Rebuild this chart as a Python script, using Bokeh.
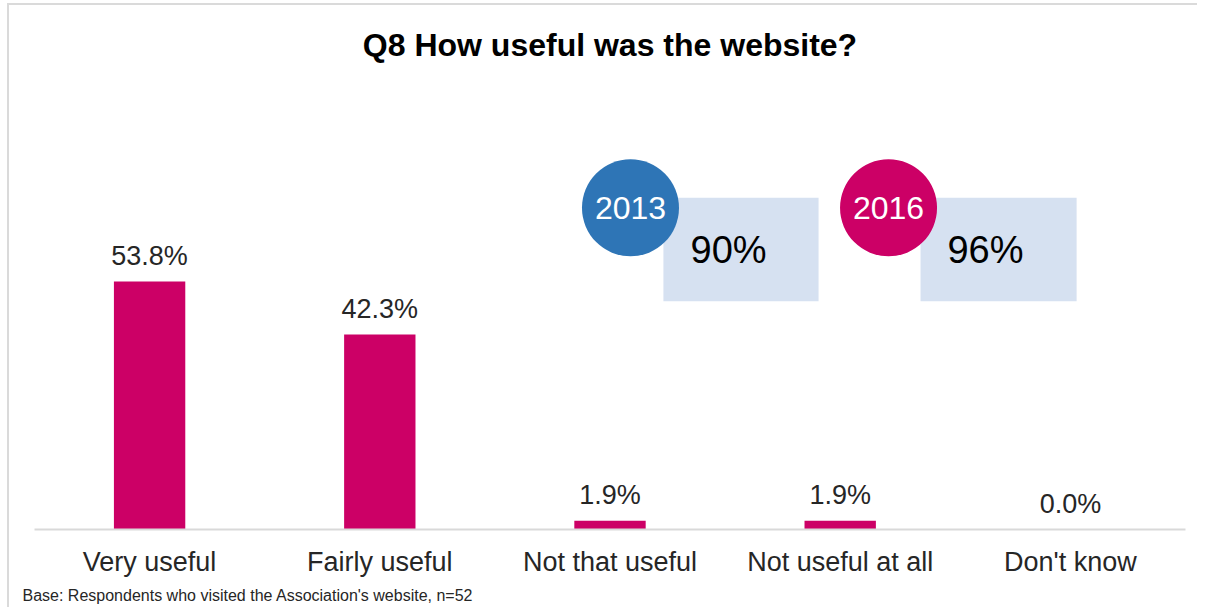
from bokeh.plotting import figure
from bokeh.models import Range1d, FixedTicker, Label, ColumnDataSource, Title
from bokeh.core.properties import value
from bokeh.embed import file_html
from bokeh.resources import INLINE

# ---- data ----
categories = ["Very useful", "Fairly useful", "Not that useful", "Not useful at all", "Don't know"]
percent = [53.8, 42.3, 1.9, 1.9, 0.0]
years = ["2013", "2016"]
useful_total = [90, 96]
year_colors = ["#2E75B6", "#CC0066"]

title_text = "Q8 How useful was the website?"
base_note = "Base: Respondents who visited the Association's website, n=52"

FONT = "Liberation Sans"
PINK = "#CC0066"

xs = [i + 0.5 for i in range(len(categories))]

p = figure(width=1190, height=604, output_backend="svg", toolbar_location=None,
           x_range=Range1d(0, len(categories)), y_range=Range1d(0, 113.7),
           min_border_left=25, min_border_right=14, min_border_top=0, min_border_bottom=75)
p.styles = {"margin-left": "7px", "margin-top": "3px",
            "border-left": "2px solid #DADADA", "border-top": "2px solid #DADADA"}
p.outline_line_color = None
p.grid.visible = False
p.yaxis.visible = False
p.background_fill_color = "white"
p.border_fill_color = "white"

src = ColumnDataSource(dict(x=xs, top=percent,
                            lab=[f"{v:.1f}%" for v in percent]))
p.vbar(x="x", top="top", width=0.31, source=src, fill_color=PINK, line_color=None)
p.text(x="x", y="top", text="lab", source=src, text_align="center", text_baseline="bottom",
       y_offset=-11, text_font=value(FONT), text_font_size="27px", text_color="#262626")

ax = p.xaxis[0]
ax.ticker = FixedTicker(ticks=xs)
ax.major_label_overrides = {x: c for x, c in zip(xs, categories)}
ax.major_tick_line_color = None
ax.minor_tick_line_color = None
ax.axis_line_color = "#D9D9D9"
ax.axis_line_width = 2
ax.major_label_text_font = FONT
ax.major_label_text_font_size = "27px"
ax.major_label_text_color = "#262626"
ax.major_label_standoff = 11

# ---- title & note ----
p.add_layout(Label(x=2.5, y=105.2, text=title_text, text_align="center", text_baseline="middle",
                   text_font=FONT, text_font_size="32px", text_font_style="bold", text_color="#000000"))
p.add_layout(Title(text=base_note, align="left", offset=-12, standoff=11,
                   text_font=FONT, text_font_size="16px", text_font_style="normal",
                   text_color="#262626"), "below")

# ---- callouts (year badge + share useful) ----
circle_x = [2.589, 3.710]
box_left = [2.732, 3.849]
box_right = [3.406, 4.527]
num_x = [3.015, 4.131]
p.quad(left=box_left, right=box_right, top=72.0, bottom=49.5, fill_color="#D6E1F1", line_color=None)
p.scatter(x=circle_x, y=[69.8, 69.8], size=97, marker="circle", fill_color=year_colors, line_color=None)
p.text(x=circle_x, y=[69.8, 69.8], text=years, text_align="center", text_baseline="middle",
       text_font=value(FONT), text_font_size="32px", text_color="white")
p.text(x=num_x, y=[60.7, 60.7], text=[f"{v}%" for v in useful_total], text_align="center",
       text_baseline="middle", text_font=value(FONT), text_font_size="38px", text_color="#000000")

open("out.html", "w").write(file_html(p, INLINE))
